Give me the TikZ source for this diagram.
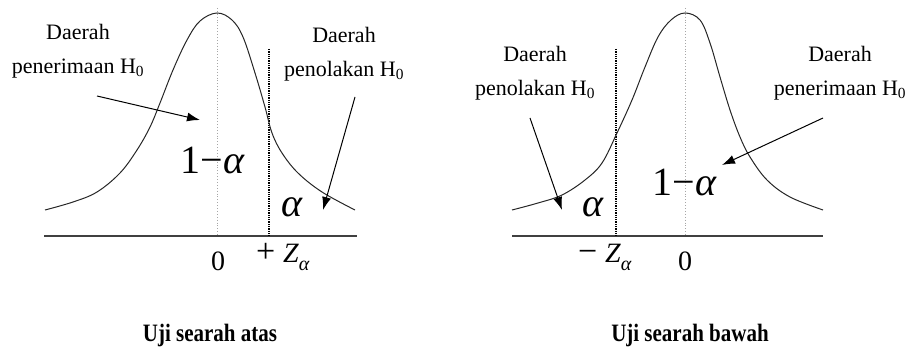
\documentclass[tikz,border=0pt]{standalone}
\usepackage{fontspec}
\setmainfont{Liberation Serif}
\usetikzlibrary{arrows.meta}

\newcommand{\zsub}{\raisebox{-8pt}{\fontsize{20}{20}\selectfont\textit{α}}}
\newcommand{\opsign}[1]{{\fontsize{34}{34}\selectfont #1}}

\begin{document}
\begin{tikzpicture}[x=1pt, y=-1pt,
  curve/.style={line width=1pt, black!85},
  axis/.style={line width=1.6pt, black!75},
  midline/.style={line width=0.9pt, black!35, dotted},
  critline/.style={line width=1.3pt, densely dotted},
  ptr/.style={line width=1pt, -{Latex[length=13pt,width=9pt]}},
  lbl/.style={align=center, font=\fontsize{22}{34}\selectfont},
  big/.style={font=\fontsize{40}{42}\selectfont},
  tck/.style={inner sep=0pt, font=\fontsize{28}{30}\selectfont},
  ttl/.style={font=\bfseries\fontsize{25}{28}\selectfont}]
  \useasboundingbox (0,0) rectangle (910,352);

  % uji searah atas
  \draw[axis] (44,236) -- (357,236);
  \draw[midline] (217,8) -- (217,236);
  \draw[critline] (269,49) -- (269,236);
  \draw[curve] plot[smooth, tension=0.6] coordinates {(45,210) (73,202) (97,192)
    (120,173) (137,150) (150,127) (160,103) (173,70) (187,40) (200,21) (217,13)
    (232,20) (243,37) (255,73) (265,107) (272,133) (282,153) (298,173) (322,192)
    (355,210)};
  \node[lbl] (terimaA) at (78,51) {Daerah\\penerimaan H\textsubscript{0}};
  \node[lbl] (tolakA) at (344,54) {Daerah\\penolakan H\textsubscript{0}};
  \node[big] (sisaA) at (213,161) {1−\textit{α}};
  \node[big] (alfaA) at (292,207) {\textit{α}};
  \node[tck, anchor=base] (nolA) at (218,271) {0};
  \node[tck, anchor=base west] (zA) at (256,263) {\opsign{+}\;\textit{Z}\zsub};
  \node[ttl] (judulA) at (210,335) {\scalebox{0.84}[1]{Uji searah atas}};
  \coordinate (pA1) at (97,96);
  \coordinate (qA1) at (200,120);
  \coordinate (pA2) at (355,97);
  \coordinate (qA2) at (323,210);
  \draw[ptr] (pA1) -- (qA1);
  \draw[ptr] (pA2) -- (qA2);

  % uji searah bawah
  \draw[axis] (512,236) -- (823,236);
  \draw[midline] (685,8) -- (685,236);
  \draw[critline] (616,49) -- (616,236);
  \draw[curve] plot[smooth, tension=0.6] coordinates {(512,210) (538,203) (562,195)
    (585,180) (602,163) (617,133) (632,100) (645,67) (658,37) (671,20) (685,13)
    (700,20) (710,43) (720,77) (730,110) (740,137) (750,157) (767,180) (790,197)
    (823,210)};
  \node[lbl] (tolakB) at (535,73) {Daerah\\penolakan H\textsubscript{0}};
  \node[lbl] (terimaB) at (840,73) {Daerah\\penerimaan H\textsubscript{0}};
  \node[big] (sisaB) at (685,183) {1−\textit{α}};
  \node[big] (alfaB) at (593,207) {\textit{α}};
  \node[tck, anchor=base] (nolB) at (685,271) {0};
  \node[tck, anchor=base west] (zB) at (578,263) {\opsign{−}\;\textit{Z}\zsub};
  \node[ttl] (judulB) at (690,335) {\scalebox{0.84}[1]{Uji searah bawah}};
  \coordinate (pB1) at (530,118);
  \coordinate (qB1) at (562,210);
  \coordinate (pB2) at (823,118);
  \coordinate (qB2) at (722,165);
  \draw[ptr] (pB1) -- (qB1);
  \draw[ptr] (pB2) -- (qB2);
\end{tikzpicture}
\end{document}
